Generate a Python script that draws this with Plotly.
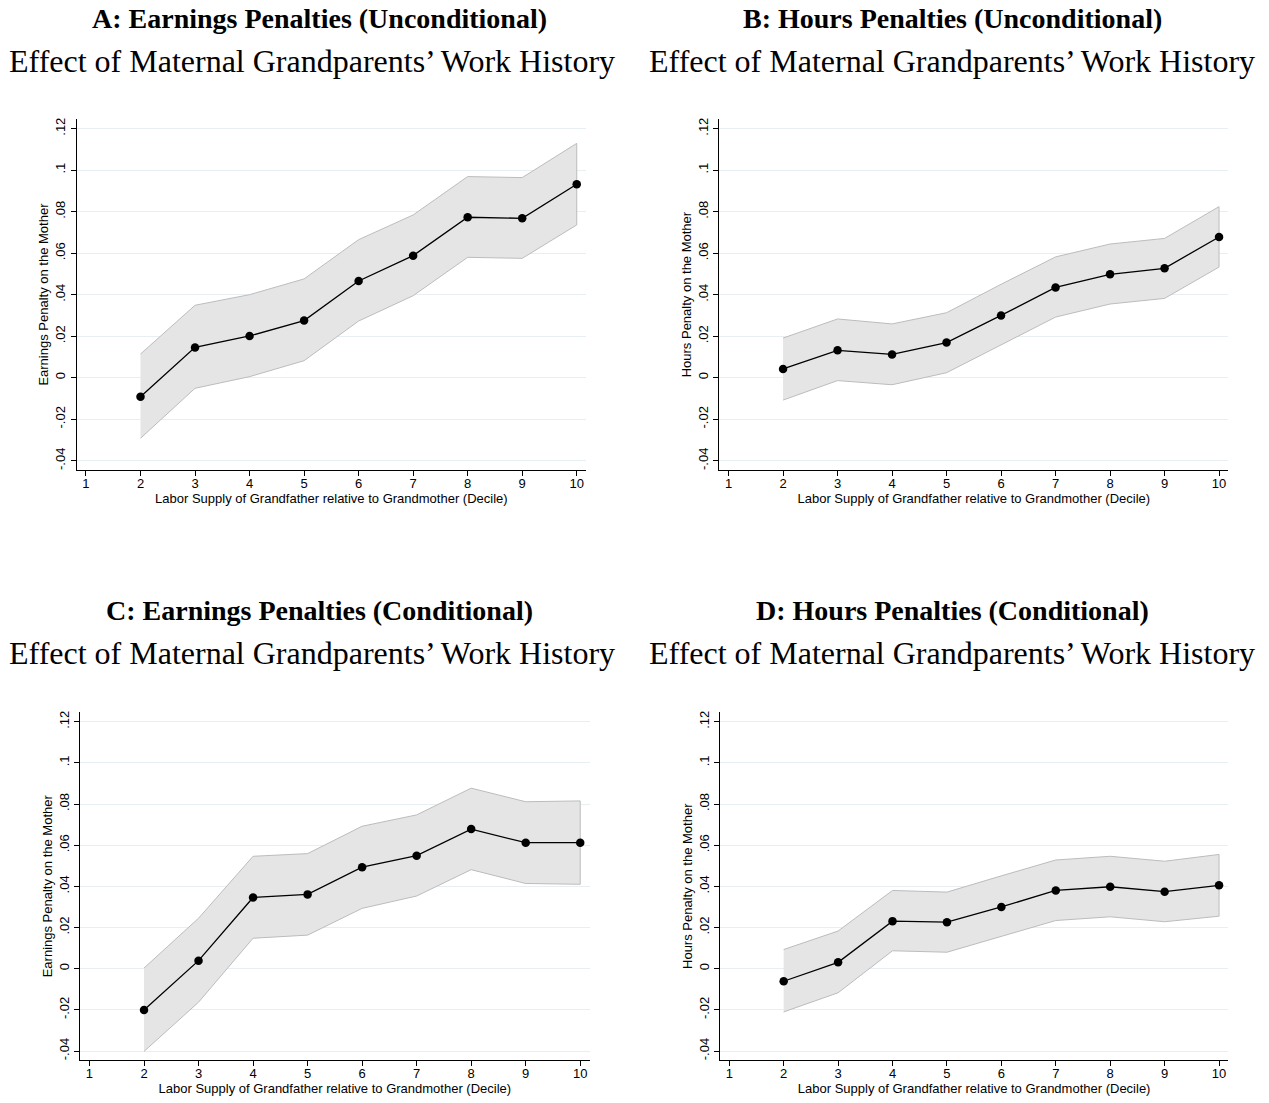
import plotly.graph_objects as go

# ---------------- data ----------------
deciles = [2, 3, 4, 5, 6, 7, 8, 9, 10]
x_ticks = [1, 2, 3, 4, 5, 6, 7, 8, 9, 10]
y_ticks = [-0.04, -0.02, 0, 0.02, 0.04, 0.06, 0.08, 0.1, 0.12]
y_tick_labels = ["-.04", "-.02", "0", ".02", ".04", ".06", ".08", ".1", ".12"]

A_est = [-0.0092, 0.0146, 0.0201, 0.0275, 0.0466, 0.0588, 0.0773, 0.0768, 0.0932]
A_hi = [0.0114, 0.0349, 0.0400, 0.0476, 0.0665, 0.0784, 0.0969, 0.0964, 0.1129]
A_lo = [-0.0292, -0.0051, 0.0005, 0.0082, 0.0273, 0.0395, 0.0580, 0.0575, 0.0736]

B_est = [0.0042, 0.0132, 0.0112, 0.0169, 0.0300, 0.0435, 0.0498, 0.0527, 0.0678]
B_hi = [0.0191, 0.0283, 0.0259, 0.0313, 0.0450, 0.0582, 0.0644, 0.0671, 0.0824]
B_lo = [-0.0108, -0.0014, -0.0034, 0.0024, 0.0157, 0.0292, 0.0355, 0.0382, 0.0533]

C_est = [-0.0201, 0.0039, 0.0346, 0.0361, 0.0493, 0.0549, 0.0678, 0.0612, 0.0612]
C_hi = [0.0003, 0.0245, 0.0546, 0.0559, 0.0692, 0.0747, 0.0877, 0.0811, 0.0815]
C_lo = [-0.0402, -0.0163, 0.0148, 0.0163, 0.0293, 0.0353, 0.0481, 0.0414, 0.0410]

D_est = [-0.0061, 0.0031, 0.0231, 0.0226, 0.0300, 0.0380, 0.0398, 0.0374, 0.0405]
D_hi = [0.0093, 0.0183, 0.0380, 0.0372, 0.0451, 0.0528, 0.0546, 0.0522, 0.0555]
D_lo = [-0.0210, -0.0117, 0.0087, 0.0080, 0.0157, 0.0234, 0.0252, 0.0228, 0.0255]

titles = [
    "A: Earnings Penalties (Unconditional)",
    "B: Hours Penalties (Unconditional)",
    "C: Earnings Penalties (Conditional)",
    "D: Hours Penalties (Conditional)",
]
subtitle = "Effect of Maternal Grandparents\u2019 Work History"
y_titles = [
    "Earnings Penalty on the Mother",
    "Hours Penalty on the Mother",
    "Earnings Penalty on the Mother",
    "Hours Penalty on the Mother",
]
x_title = "Labor Supply of Grandfather relative to Grandmother (Decile)"

panels = [(A_est, A_lo, A_hi), (B_est, B_lo, B_hi), (C_est, C_lo, C_hi), (D_est, D_lo, D_hi)]

# ---------------- layout geometry (page pixels; body margin removed) ----------------
W, H = 1269, 1103
px_x = [(76.7, 586.0), (719.3, 1228.3), (80.2, 589.5), (720.0, 1228.3)]
px_y = [(117.5, 468.7), (117.5, 468.7), (711.7, 1060.0), (711.7, 1060.0)]
title_y = [(17, 59), (17, 59), (610, 652)]
title_cx = [320, 952, 320, 952]
subtitle_cx = [312, 952, 312, 952]


def fx(p):
    return p / W


def fy(p):
    return 1 - p / H


fig = go.Figure()
layout = dict(
    width=W, height=H,
    margin=dict(l=0, r=0, t=0, b=0),
    paper_bgcolor="white", plot_bgcolor="white",
    showlegend=False,
    font=dict(family="Liberation Sans, Arial", size=13, color="black"),
    annotations=[],
)

for i, (est, lo, hi) in enumerate(panels):
    n = i + 1
    xa = "x" if n == 1 else f"x{n}"
    ya = "y" if n == 1 else f"y{n}"
    # confidence band polygon
    fig.add_trace(go.Scatter(
        x=deciles + deciles[::-1], y=hi + lo[::-1],
        xaxis=xa, yaxis=ya, mode="lines", fill="toself",
        fillcolor="#e5e5e5", line=dict(color="#bcbcbc", width=1),
        hoverinfo="skip",
    ))
    fig.add_trace(go.Scatter(
        x=deciles, y=est, xaxis=xa, yaxis=ya, mode="lines+markers",
        line=dict(color="black", width=1.3),
        marker=dict(color="black", size=8.5),
    ))
    x0, x1 = px_x[i]
    y0, y1 = px_y[i]
    xkey = "xaxis" if n == 1 else f"xaxis{n}"
    ykey = "yaxis" if n == 1 else f"yaxis{n}"
    layout[xkey] = dict(
        domain=[fx(x0), fx(x1)], anchor=ya, range=[0.83, 10.17],
        tickmode="array", tickvals=x_ticks, ticks="outside", ticklen=5,
        tickcolor="black", showline=True, linecolor="black", linewidth=1.2,
        showgrid=False, zeroline=False, tickfont=dict(size=13),
        ticklabelstandoff=-4,
        title=dict(text=x_title, font=dict(size=13), standoff=0),
    )
    layout[ykey] = dict(
        domain=[fy(y1), fy(y0)], anchor=xa, range=[-0.0444, 0.1245],
        tickmode="array", tickvals=y_ticks, ticktext=y_tick_labels,
        ticks="outside", ticklen=5, tickcolor="black", tickangle=-90,
        showline=True, linecolor="black", linewidth=1.2,
        showgrid=True, gridcolor="#e8eff2", gridwidth=1, zeroline=False,
        tickfont=dict(size=13),
        title=dict(text=y_titles[i], font=dict(size=13), standoff=1),
    )
    ty = title_y[0] if i < 2 else title_y[2]
    layout["annotations"].append(dict(
        text=f"<b>{titles[i]}</b>", x=fx(title_cx[i]), y=fy(ty[0]),
        xref="paper", yref="paper", showarrow=False, xanchor="center", yanchor="middle",
        font=dict(family="Liberation Serif, Times New Roman, serif", size=28, color="black"),
    ))
    layout["annotations"].append(dict(
        text=subtitle, x=fx(subtitle_cx[i]), y=fy(ty[1]),
        xref="paper", yref="paper", showarrow=False, xanchor="center", yanchor="middle",
        font=dict(family="Liberation Serif, Times New Roman, serif", size=32, color="black"),
    ))

fig.update_layout(**layout)
fig.write_html(
    "out.html",
    config={"displayModeBar": False},
    post_script="document.body.style.margin='0px';",
)
